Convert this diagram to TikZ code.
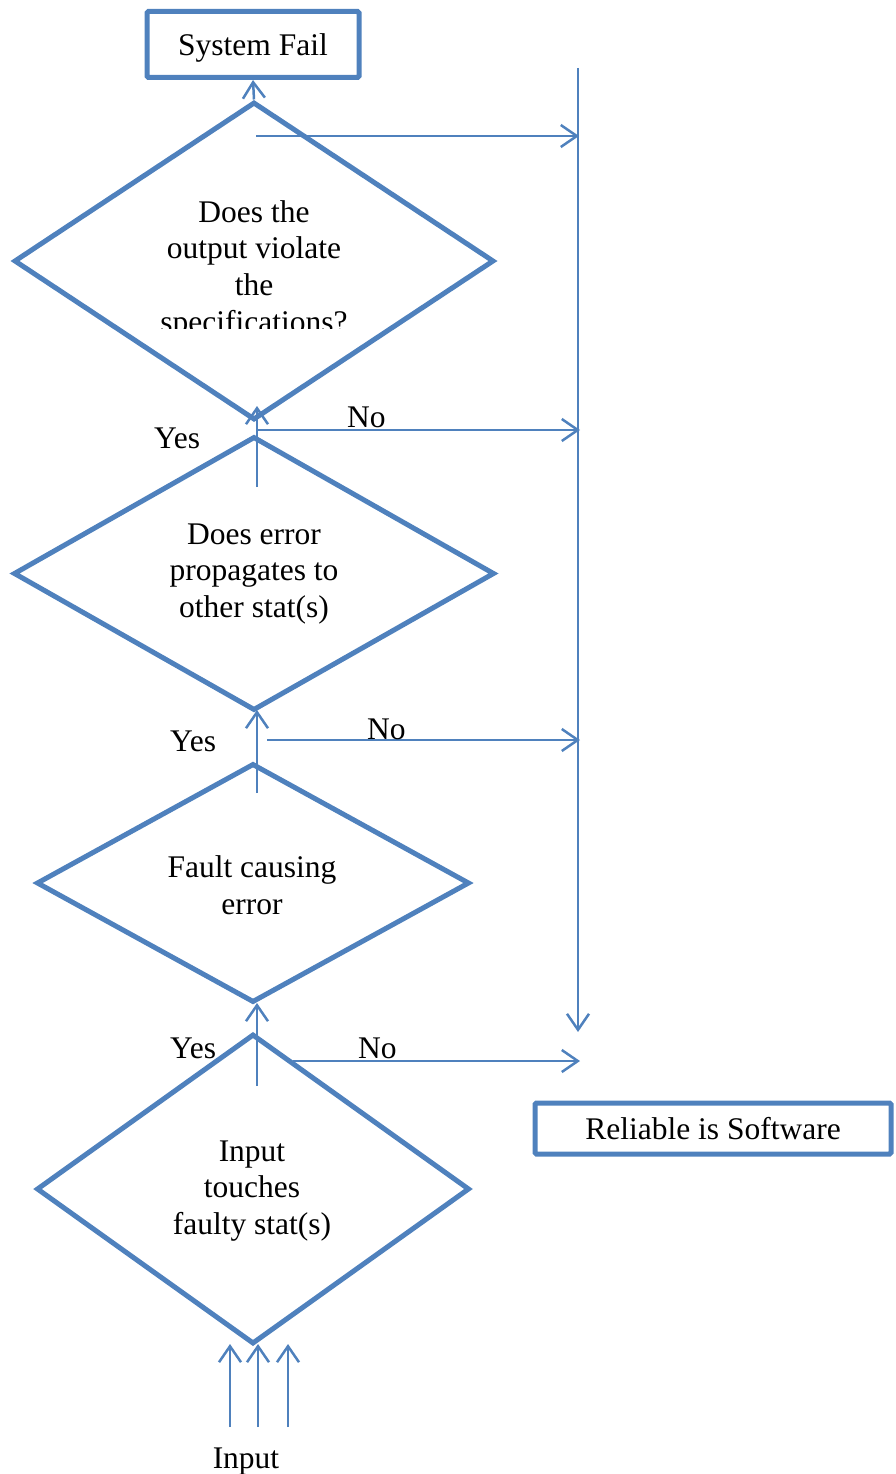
\documentclass[tikz,border=0pt]{standalone}
\usepackage{fontspec}
\setmainfont{Liberation Serif}
\usetikzlibrary{arrows.meta,shapes.geometric}
\definecolor{flowblue}{HTML}{4F81BD}
\begin{document}
\begin{tikzpicture}[x=1pt,y=-1pt,
  lbl/.style={font=\fontsize{31.5}{36.7}\selectfont, text=black, inner sep=0pt},
  decision/.style={draw=flowblue, line width=5pt, shape=diamond, inner sep=0pt},
  endbox/.style={draw=flowblue, line width=5pt, rounded corners=1.5pt, inner sep=0pt,
    text depth=0pt, font=\fontsize{31.5}{36.7}\selectfont},
  flow/.style={draw=flowblue, line width=2.5pt, -{Straight Barb[length=16pt,width=22pt]}}]
\useasboundingbox (0,0) rectangle (895,1474);

% terminal boxes
\node[endbox, minimum width=212pt, minimum height=66pt] (sf) at (253,44.5) {System Fail};
\node[endbox, minimum width=356pt, minimum height=51pt] (rel) at (713,1128.5) {Reliable is Software};

% decision diamonds
\node[decision, minimum width=480pt, minimum height=318pt] (q1) at (254,261) {};
\node[decision, minimum width=481pt, minimum height=274pt] (q2) at (254,573.5) {};
\node[decision, minimum width=433pt, minimum height=239pt] (q3) at (253,883) {};
\node[decision, minimum width=433pt, minimum height=310pt] (q4) at (253,1189) {};

% diamond texts
\begin{scope}
  \clip (0,180) rectangle (495,328);
  \node[lbl, align=center] (t1) at (254,269.5) {Does the\\output violate\\the\\specifications?};
\end{scope}
\node[lbl, align=center] (t2) at (254,574) {Does error\\propagates to\\other stat(s)};
\node[lbl, align=center] (t3) at (252,885) {Fault causing\\error};
\node[lbl, align=center] (t4) at (252,1191) {Input\\touches\\faulty stat(s)};

% right-hand collector line
\coordinate (busTop) at (578,68);
\coordinate (busEnd) at (578,1032);
\draw[flow] (busTop) -- (busEnd);

% connector end points
\coordinate (s0) at (256,136);   \coordinate (e0) at (579,136);
\coordinate (y1a) at (257,487);  \coordinate (y1b) at (257,406);
\coordinate (n1a) at (257,430);  \coordinate (n1b) at (580,430);
\coordinate (y2a) at (257,793);  \coordinate (y2b) at (257,710);
\coordinate (n2a) at (267,740);  \coordinate (n2b) at (580,740);
\coordinate (y3a) at (257,1086); \coordinate (y3b) at (257,1003);
\coordinate (n3a) at (293,1061); \coordinate (n3b) at (580,1061);
\coordinate (i1a) at (230,1427); \coordinate (i1b) at (230,1344);
\coordinate (i2a) at (258,1427); \coordinate (i2b) at (258,1344);
\coordinate (i3a) at (288,1427); \coordinate (i3b) at (288,1344);

% connectors
\draw[flow] (q1.north) -- (sf.south);
\draw[flow] (s0) -- (e0);
\draw[flow] (y1a) -- (y1b);
\draw[flow] (n1a) -- (n1b);
\draw[flow] (y2a) -- (y2b);
\draw[flow] (n2a) -- (n2b);
\draw[flow] (y3a) -- (y3b);
\draw[flow] (n3a) -- (n3b);
\draw[flow] (i1a) -- (i1b);
\draw[flow] (i2a) -- (i2b);
\draw[flow] (i3a) -- (i3b);

% branch labels
\node[lbl, anchor=base west] (yes1) at (154,448) {Yes};
\node[lbl, anchor=base west] (no1) at (347,427) {No};
\node[lbl, anchor=base west] (yes2) at (170,751) {Yes};
\node[lbl, anchor=base west] (no2) at (367,739) {No};
\node[lbl, anchor=base west] (yes3) at (170,1058) {Yes};
\node[lbl, anchor=base west] (no3) at (358,1058) {No};
\node[lbl, anchor=base] (inp) at (246,1468) {Input};
\end{tikzpicture}
\end{document}
